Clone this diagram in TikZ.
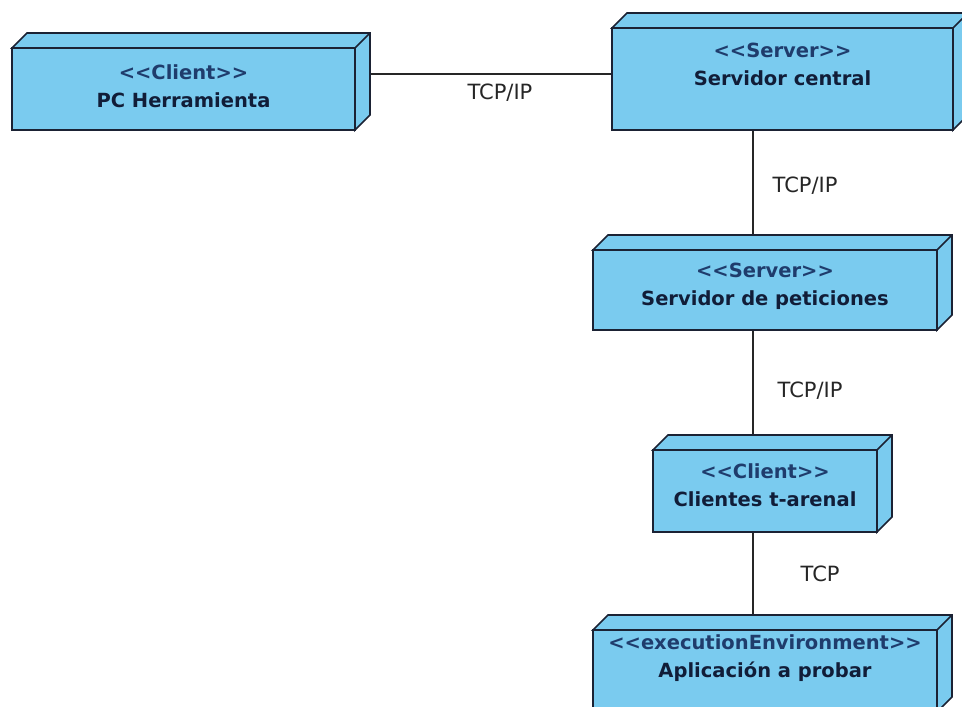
\documentclass[tikz,border=0pt]{standalone}
\usepackage{fontspec}
\setmainfont{DejaVu Sans}[Ligatures=TeXOff]
\usepackage{tikz}
\usetikzlibrary{positioning,backgrounds}
\definecolor{nodeblue}{HTML}{7ACBEF}
\definecolor{nodeline}{HTML}{1B2234}
\definecolor{stereoblue}{HTML}{1F3C6C}
\definecolor{namenavy}{HTML}{111D38}
\tikzset{
  depbox/.style={rectangle, draw=nodeline, fill=nodeblue, line width=1.6pt, outer sep=0pt, inner sep=0pt},
  depface/.style={draw=nodeline, fill=nodeblue, line width=1.6pt},
  boxtext/.style={align=center, inner sep=0pt, text=namenavy, font=\fontsize{19.5}{28}\selectfont\bfseries},
  link/.style={draw=black!85, line width=1.4pt},
  linklabel/.style={anchor=base west, inner sep=0pt, text=black!85, font=\fontsize{21}{24}\selectfont}
}

\begin{document}
\begin{tikzpicture}[x=1pt, y=1pt]
\newcommand{\dep}{15}
\newcommand{\stereo}[1]{\textcolor{stereoblue}{<<#1>>}}
\useasboundingbox (0, 0) rectangle (962, 707);
\clip (0, 0) rectangle (962, 707);

\node[depbox, minimum width=343, minimum height=82] (pc) at (183.5, 618) {};
\node[depbox, minimum width=341, minimum height=102] (central) at (782.5, 628) {};
\node[depbox, minimum width=344, minimum height=80] (peticiones) at (765, 417) {};
\node[depbox, minimum width=224, minimum height=82] (clientes) at (765, 216) {};
\node[depbox, minimum width=344, minimum height=82] (aplicacion) at (765, 36) {};
\coordinate (spine) at (753, 0);

%% connectors, behind the boxes
\begin{scope}[on background layer]
  \draw[link] ([shift={(\dep, \dep)}]pc.east) coordinate (pcback) -- (pcback -| central.west)
    node[linklabel, pos=0.4, yshift=-26pt] {TCP/IP};
  \draw[link] (central.south -| spine) -- (peticiones.north -| spine)
    node[linklabel, pos=0.52, xshift=19pt] {TCP/IP};
  \draw[link] (peticiones.south -| spine) -- (clientes.north -| spine)
    node[linklabel, pos=0.56, xshift=24pt] {TCP/IP};
  \draw[link] (clientes.south -| spine) -- (aplicacion.north -| spine)
    node[linklabel, pos=0.51, xshift=47pt] {TCP};
\end{scope}

%% top and side faces
\foreach \n in {pc, central, peticiones, clientes, aplicacion}
  \draw[depface] (\n.north west) -- ++(\dep, \dep) -| ([shift={(\dep, \dep)}]\n.south east)
    -- (\n.south east) -- (\n.north east) -- cycle
    (\n.north east) -- ++(\dep, \dep);

\node[boxtext, below=16pt of pc.north] (pctext) {\stereo{Client}\\PC Herramienta};
\node[boxtext, below=15pt of central.north] (centraltext) {\stereo{Server}\\Servidor central};
\node[boxtext, below=13pt of peticiones.north] (peticionestext) {\stereo{Server}\\Servidor de peticiones};
\node[boxtext, below=13pt of clientes.north] (clientestext) {\stereo{Client}\\Clientes t-arenal};
\node[boxtext, below=4pt of aplicacion.north] (aplicaciontext) {\stereo{executionEnvironment}\\Aplicación a probar};
\end{tikzpicture}
\end{document}
